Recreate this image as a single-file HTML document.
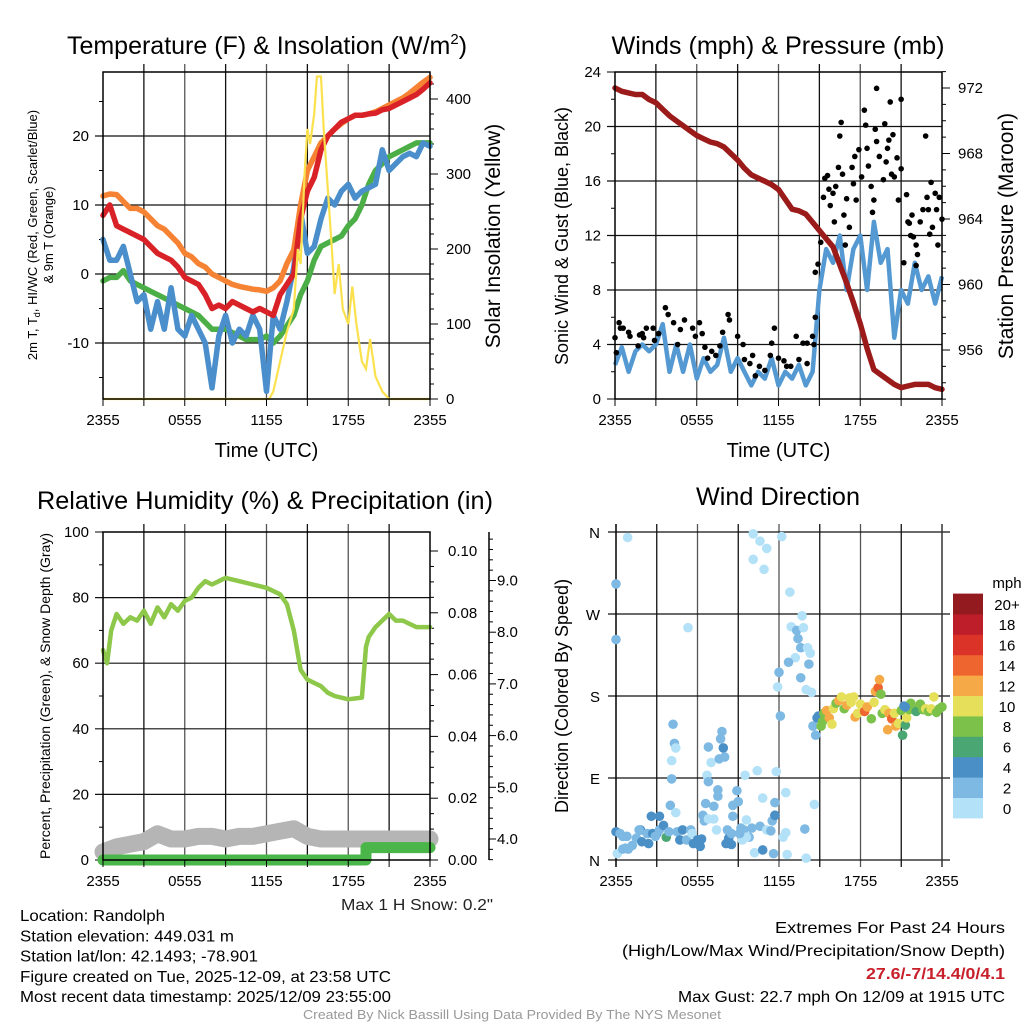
<!DOCTYPE html>
<html><head><meta charset="utf-8"><style>
html,body{margin:0;padding:0;background:#fff;}
svg{display:block;font-family:"Liberation Sans",sans-serif;}
</style></head><body>
<svg id="chart" width="1024" height="1024" viewBox="0 0 1024 1024" xmlns="http://www.w3.org/2000/svg"></svg>
<script>
// ---------- DATA ----------
const hours = [0,0.5,1,1.5,2,2.5,3,3.5,4,4.5,5,5.5,6,6.5,7,7.5,8,8.5,9,9.5,10,10.5,11,11.5,12,12.5,13,13.5,14,14.5,15,15.5,16,16.5,17,17.5,18,18.5,19,19.5,20,20.5,21,21.5,22,22.5,23,23.5,24];
const xTickLabels = ["2355","0555","1155","1755","2355"];
// Temperature panel (F)
const tempOrange = [11.3,11.6,11.5,10.5,9.5,9.5,9,8,7,6.5,5.5,4.5,3,2.5,1.5,1,0,-0.5,-1,-1.5,-1.8,-2,-2.2,-2.3,-2.5,-2,-1,1.5,3.5,10,15,17,19,20,21,21.8,22.5,23,23,23.2,23.5,24,24.5,25,25.5,26.2,27,27.8,28.5];
const tempRed = [8.5,10,7,6.5,6,5.5,5,4,3,2.5,2,1,-0.5,-1,-1.5,-3,-5,-4.5,-5,-4,-4.5,-5,-5.5,-5,-5.5,-6,-3,-1.5,0,8,12,14,18,20,21,22,22.5,23,23,23.2,23.3,23.8,24,24.5,25,25.5,26,26.8,27.7];
const tempGreen = [-1,-0.5,-0.5,0.5,-1,-1.5,-2,-2.5,-3,-3.5,-4,-4.5,-5,-5.5,-6,-7,-8,-8,-8,-8.5,-9,-9.5,-9.5,-9.5,-9,-10,-9,-7.5,-6,-3,-1,2,4,4.5,5,5.5,7,8,10,13,15,16,17,17.5,18,18.5,19,19,19];
const tempBlue = [5,2,2,4,0,-4,-3,-8,-4,-8,-2,-8,-9,-6,-8,-10,-16.5,-9,-6,-10,-8,-9,-6,-8,-17,-6,-8,-4,1,9,3,4,8,11,10,12,13,11,12,12.5,13,18,15,16,17,17.5,17,19,18.5];
const insolHours = [0,12.2,12.5,13,13.5,14,14.3,14.5,14.8,15,15.2,15.5,15.7,16,16.2,16.5,16.8,17,17.3,17.6,18,18.3,18.6,19,19.3,19.6,20,20.5,21,24];
const insolValues = [0,0,10,50,90,120,200,180,300,360,340,380,430,430,360,280,200,140,180,120,100,150,100,50,40,80,30,10,0,0];
// Winds panel
const windSonic = [2.5,3.8,2,3.5,4,3.5,4,5.5,2,4,2,4,1.5,3,2,2.5,4.5,2,3,2,1,2,1.5,3,1,2,1.5,2.5,1,2,8,11,10,12,8,11,12,8,13,10,11,4.5,8,7,10,8,9,7,9];
const pressure = [972,971.8,971.7,971.6,971.6,971.3,971.1,970.7,970.3,970,969.7,969.4,969.1,968.9,968.7,968.6,968.4,968,967.6,967.1,966.7,966.5,966.3,966.1,965.8,965.2,964.6,964.5,964.3,963.8,963.3,962.8,962.3,961.2,960.1,958.9,957.6,956.1,954.8,954.5,954.2,953.9,953.7,953.8,953.9,953.9,953.9,953.7,953.6];
const gustHours = [0,0.3,0.4,0.6,1,1.1,0.1,1.7,1.8,2,2.3,2.1,2.8,2.9,3.2,3.7,3.9,4.3,4.6,4.8,5.1,5.7,5.9,6.2,6.4,6.6,6.8,7.1,7.4,7.7,7.9,8.3,8.4,9,9.4,9.5,9.9,10.1,10.3,10.6,11,11.4,11.5,11.7,12,12.4,12.6,12.9,13.3,13.5,13.8,14.1,14.1,14.5,14.6,14.7,14.7,14.9,15.1,15.3,15.4,15.6,15.7,15.8,16,16.1,16.2,16.4,16.5,16.6,16.7,16.8,16.9,17,17.2,17.4,17.5,17.6,17.7,17.9,18.1,18.3,18.4,18.5,18.6,18.8,18.9,19,19.1,19.2,19.2,19.4,19.7,19.8,19.9,20,20.1,20.2,20.3,20.4,20.5,20.7,20.8,21,21,21.2,21.4,21.5,21.6,21.8,21.7,21.9,22.1,22.1,22.2,22.4,22.6,22.8,22.9,23,23.1,23.2,23.3,23.5,23.6,23.7,23.8,24];
const gustValues = [4.5,5.6,5.2,5.2,4.9,4.6,3.4,3.9,4.7,4.8,5.2,4.5,5.2,4.3,4.8,6.7,6.2,5.6,4,5.1,5.8,5.2,4.6,5.6,4.8,3.8,3,3.5,3.2,3.9,4.9,6.2,5.8,4.6,4,2.9,2.6,3.2,1.7,2.4,2.1,3.2,4.1,5.2,3,2.8,2.4,2.4,4.6,2.9,4.1,2.6,4.1,4.6,4,6,9.3,9.9,11.5,14.8,16.2,16.4,15.4,14.2,15.1,13,15.6,17,19.3,20.3,16.5,13.5,11.3,14.7,12.6,17,15.8,17.8,14.6,18.3,16.3,21.2,20.1,18.4,17.1,15.6,13.7,14.6,19.8,18.9,22.8,17.8,16.1,20.2,17.4,18.4,19,21.8,16.5,19.4,16.3,17.7,14.6,22,16.9,10,15,13,12.9,13.5,12,11.9,11.3,9.8,10.6,13,13.9,19.3,14.8,13.9,12.1,15.9,12.6,15.1,13.9,11.3,14.8,13.2];
// RH panel
const rhHours = [0,0.3,0.6,1,1.5,2,2.5,3,3.5,4,4.5,5,5.5,6,6.5,7,7.5,8,8.5,9,10,11,12,13,13.5,14,14.5,15,16,16.5,17,18,19,19.3,19.5,20,21,21.5,22,23,24];
const rhValues = [64,60,70,75,72,74,73,76,72,77,74,78,76,79,80,83,85,84,85,86,85,84,83,81,78,70,58,55,53,51,50,49,49.5,65,68,71,75,73,73,71,71];
const snowHours = [0,1,2,3,4,5,6,7,8,9,10,11,12,13,14,15,16,17,18,19,20,21,22,23,24];
const snowDepth = [3.75,3.85,3.9,3.95,4.1,4.0,4.0,4.05,4.05,4.0,4.05,4.05,4.1,4.15,4.2,4.05,4.0,4.0,4.0,4.0,4.0,4.0,4.0,4.0,4.0];
const precipHours = [0,19.3,19.3,24];
const precipValues = [0,0,0.004,0.004];
// Wind direction panel
const dirHours = [0.86,0,0,5.3,10.1,10.6,11.1,10.1,10.9,12.2,12.8,12.9,13.3,13.8,13.7,13.4,13.6,14.1,14.3,13.2,12.7,14.2,13.6,12,11.9,12.1,14,14.4,11.8,12.5,14.6,13.9,14,12.6,12.5,12.3,4.2,4.3,4.4,4.1,4.1,4,4.4,6.8,7,7.9,7.8,7.7,7.6,8,6.7,6.8,7.5,7.5,6.6,7.2,7.2,6.5,6.4,9.5,10.4,8.9,9,8.6,10.8,11.7,11.7,0,0.3,0.5,0.7,0.9,1.2,1.5,1.8,1.9,2.3,2.4,2.6,2.7,3,3.2,3.5,3.7,3.9,4.5,4.7,4.9,5.2,5.5,5.6,5.7,6,6.2,6.3,2.9,3.2,1.7,0.8,0.1,0.5,8.1,8.3,8.5,8.2,8.6,9.2,9.3,9.4,9.6,9.8,10,10.2,10.6,10.8,11.1,11.4,11.5,11.6,11.7,9.6,9.1,8.5,7.4,6.8,14.7,14.5,14.8,14.9,15.1,15.2,15.3,15.5,15.7,15.9,16,16.2,16.4,16.6,16.8,17,17.2,17.3,17.5,17.6,17.8,18,18.3,18.5,18.8,19,19.1,19.3,19.4,19.5,19.6,19.8,20,20.1,20.3,20.5,20.6,20.8,21,21.1,21.2,21.3,21.4,21.6,21.7,21.9,22.1,22.4,22.6,22.8,23,23.2,23.4,23.6,23.8,24,21.3];
const dirDegrees = [354,303,242,255,358,350,342,330,319,355,294,256,252,255,268,243,233,233,227,222,217,215,200,206,190,158,187,184,97,74,61,34,2,6,30,25,149,128,123,109,89,60,52,124,107,123,141,133,111,113,93,86,77,70,62,59,45,43,49,93,98,76,64,60,68,63,49,31,29,26,13,12,16,24,33,20,29,18,48,29,29,33,38,25,31,31,22,33,22,33,29,18,22,15,23,26,48,33,26,7,12,18,24,17,33,48,35,22,33,44,25,35,8,37,11,33,32,43,7,49,25,29,29,33,45,137,147,156,158,147,152,161,164,156,149,166,172,175,179,166,170,178,173,179,157,161,171,163,168,155,173,185,189,198,182,161,165,143,161,155,161,147,150,164,137,169,148,156,165,172,166,163,171,165,166,163,166,179,162,166,168,168];
const dirSpeeds = [0,3,3,1,0,0,0,0,0,0,0,1,2,0,0,3,3,0,0,0,3,3,3,3,1,3,0,0,0,0,0,3,0,0,0,0,2,2,0,0,3,2,0,2,0,4,2,2,2,2,0,2,2,2,2,2,0,2,2,0,0,2,3,2,0,3,4,4,2,2,2,2,2,2,4,4,2,4,4,4,4,2,4,6,2,2,4,4,2,2,0,4,4,4,4,2,4,2,2,0,2,4,4,4,2,2,2,0,2,0,2,2,0,2,4,0,2,2,2,4,0,2,2,0,0,2,2,4,4,8,8,8,12,12,10,10,8,12,10,8,12,10,10,10,12,10,10,14,12,8,10,12,14,12,8,8,10,12,12,14,10,12,10,8,6,4,6,10,8,8,8,6,8,8,10,8,10,10,8,8,8,4];
const speedLabels = ["0","2","4","6","8","10","12","14","16","18","20+"];
const speedColors = ["#b3e1f7","#7db9e3","#4a8fc6","#4aa672","#7cc24a","#e6df5a","#f5a947","#ef6530","#dc3329","#be1e2a","#931a1e"];

// ---------- DRAW ----------
const NS="http://www.w3.org/2000/svg";
const svg=document.getElementById('chart');
function mk(tag,attrs,parent){const e=document.createElementNS(NS,tag);for(const k in attrs)e.setAttribute(k,attrs[k]);(parent||svg).appendChild(e);return e;}
function txt(s,x,y,size,anchor,parent,extra){const t=mk('text',Object.assign({x:x,y:y,'font-size':size,'text-anchor':anchor||'start',fill:'#000'},extra||{}),parent);t.textContent=s;return t;}
function group(name){const g=mk('g',{});return g;}

function timeAxis(g,x0,x1,yb,withTitle){
  const xs=h=>x0+h/24*(x1-x0);
  for(let i=0;i<=8;i++){const x=xs(i*3);mk('line',{x1:x,x2:x,y1:yb,y2:yb+7,stroke:'#000','stroke-width':1},g);}
  xTickLabels.forEach((l,i)=>{const t=txt(l,xs(i*6),yb+26,15,'middle',g);});
  if(withTitle){const t=txt('Time (UTC)',(x0+x1)/2,yb+58,20,'middle',g);}
}
function vgrid(g,x0,x1,y0,y1){for(let i=1;i<8;i++){const x=x0+i*3/24*(x1-x0);mk('line',{x1:x,x2:x,y1:y0-8,y2:y1,stroke:(i%2?'#111':'#555'),'stroke-width':1.3},g);}}
function pathFrom(xsArr,ysArr,fx,fy){return xsArr.map((h,i)=>(i?'L':'M')+fx(h).toFixed(1)+','+fy(ysArr[i]).toFixed(1)).join(' ');}
const fit={lengthAdjust:'spacingAndGlyphs'};

// ===== Panel 1: temperature =====
(function(){
  const g=group('temperature-panel');
  const x0=103,x1=430,y0=72,y1=399;
  const xs=h=>x0+h/24*(x1-x0);
  const yT=v=>274-v*6.9;
  const yI=v=>399-v*0.75;
  const tt=txt('',267,54,25,'middle',g);
  tt.innerHTML='Temperature (F) &amp; Insolation (W/m<tspan dy="-10" font-size="15">2</tspan><tspan dy="10">)</tspan>';
  vgrid(g,x0,x1,y0,y1);
  [20,10,0,-10].forEach(v=>{mk('line',{x1:x0-8,x2:x1,y1:yT(v),y2:yT(v),stroke:'#111','stroke-width':1.2},g);const t=txt(String(v),x0-14,yT(v)+5,15,'end',g);});
  [25,15,5,-5,-15].forEach(v=>mk('line',{x1:x0-4,x2:x0,y1:yT(v),y2:yT(v),stroke:'#000'},g));
  for(let v=0;v<=430;v+=20){mk('line',{x1:x1,x2:x1+(v%100?4:8),y1:yI(v),y2:yI(v),stroke:'#000'},g);}
  [0,100,200,300,400].forEach(v=>{const t=txt(String(v),x1+16,yI(v)+5,15,'start',g);});
  const series=[[tempGreen,'#4bae46','dewpoint-line'],[tempBlue,'#4a8fcb','heat-index-wind-chill-line'],[tempOrange,'#f68233','temp-9m-line'],[tempRed,'#d92227','temp-2m-line']];
  series.forEach(s=>{const p=mk('path',{d:pathFrom(hours,s[0],xs,yT),fill:'none',stroke:s[1],'stroke-width':5.5,'stroke-linejoin':'round','stroke-linecap':'round'},g);});
  const ins=mk('path',{d:pathFrom(insolHours,insolValues.map(v=>Math.min(v,434)),xs,yI),fill:'none',stroke:'#fbe14e','stroke-width':2.2},g);
  
  mk('rect',{x:x0,y:y0,width:x1-x0,height:y1-y0,fill:'none',stroke:'#000','stroke-width':1.5},g);
  timeAxis(g,x0,x1,y1,true);
  const lt=mk('text',{transform:'translate(37,235) rotate(-90)','font-size':13,'text-anchor':'middle'},g);
  
  lt.innerHTML='2m T, T<tspan dy="3" font-size="9">d</tspan><tspan dy="-3">, HI/WC (Red, Green, Scarlet/Blue)</tspan>';
  const lt2=txt('& 9m T (Orange)',0,0,13,'middle',g,{transform:'translate(53,235) rotate(-90)'});
  const rt=txt('Solar Insolation (Yellow)',0,0,21,'middle',g,{transform:'translate(500,236) rotate(-90)'});
})();

// ===== Panel 2: winds =====
(function(){
  const g=group('winds-panel');
  const x0=615,x1=942,y0=72,y1=399;
  const xs=h=>x0+h/24*(x1-x0);
  const yW=v=>399-v*13.625;
  const yP=v=>88+(972-v)*16.375;
  const tt=txt('Winds (mph) & Pressure (mb)',778,54,25,'middle',g,Object.assign({textLength:333},fit));
  vgrid(g,x0,x1,y0,y1);
  for(let v=0;v<=24;v+=4){if(v>0&&v<24)mk('line',{x1:x0-8,x2:x1,y1:yW(v),y2:yW(v),stroke:'#111','stroke-width':1.2},g);else mk('line',{x1:x0-8,x2:x0,y1:yW(v),y2:yW(v),stroke:'#000'},g);const t=txt(String(v),x0-14,yW(v)+5,15,'end',g);}
  for(let v=2;v<24;v+=4)mk('line',{x1:x0-4,x2:x0,y1:yW(v),y2:yW(v),stroke:'#000'},g);
  for(let v=953;v<=973;v++){mk('line',{x1:x1,x2:x1+(v%4?4:8),y1:yP(v),y2:yP(v),stroke:'#000'},g);}
  [956,960,964,968,972].forEach(v=>{const t=txt(String(v),x1+16,yP(v)+5,15,'start',g);});
  const b=mk('path',{d:pathFrom(hours,windSonic,xs,yW),fill:'none',stroke:'#5499d2','stroke-width':4.5,'stroke-linejoin':'round'},g);
  
  const p=mk('path',{d:pathFrom(hours,pressure,xs,yP),fill:'none',stroke:'#9b1a1a','stroke-width':5.5,'stroke-linejoin':'round','stroke-linecap':'round'},g);
  
  gustHours.forEach((h,i)=>{const c=mk('circle',{cx:xs(h),cy:yW(gustValues[i]),r:2.8,fill:'#000'},g);
    
    });
  mk('rect',{x:x0,y:y0,width:x1-x0,height:y1-y0,fill:'none',stroke:'#000','stroke-width':1.5},g);
  timeAxis(g,x0,x1,y1,true);
  const lt=txt('Sonic Wind & Gust (Blue, Black)',0,0,18,'middle',g,{transform:'translate(568,236) rotate(-90)'});
  const rt=txt('Station Pressure (Maroon)',0,0,21,'middle',g,{transform:'translate(1013,236) rotate(-90)'});
})();

// ===== Panel 3: RH =====
(function(){
  const g=group('humidity-panel');
  const x0=103,x1=430,y0=532,y1=860;
  const xs=h=>x0+h/24*(x1-x0);
  const yR=v=>860-v*3.28;
  const yPr=v=>860-v*3090;
  const yS=v=>839-(v-4)*51.7;
  const tt=txt('Relative Humidity (%) & Precipitation (in)',265,509,25,'middle',g,Object.assign({textLength:456},fit));
  vgrid(g,x0,x1,y0,y1);
  for(let v=0;v<=100;v+=20){if(v>0&&v<100)mk('line',{x1:x0-8,x2:x1,y1:yR(v),y2:yR(v),stroke:'#111','stroke-width':1.2},g);else mk('line',{x1:x0-8,x2:x0,y1:yR(v),y2:yR(v),stroke:'#000'},g);const t=txt(String(v),x0-14,yR(v)+5,15,'end',g);}
  for(let v=10;v<100;v+=20)mk('line',{x1:x0-4,x2:x0,y1:yR(v),y2:yR(v),stroke:'#000'},g);
  for(let v=0;v<=0.105;v+=0.005){const maj=Math.abs(Math.round(v*1000)%20)<1;mk('line',{x1:x1,x2:x1+(maj?8:4),y1:yPr(v),y2:yPr(v),stroke:'#000'},g);}
  ['0.00','0.02','0.04','0.06','0.08','0.10'].forEach(l=>{const t=txt(l,x1+18,yPr(parseFloat(l))+5,15,'start',g);});
  mk('line',{x1:489,x2:489,y1:y0,y2:y1,stroke:'#000','stroke-width':1.5},g);
  for(let v=3.6;v<=9.9;v+=0.2){const maj=Math.abs(v-Math.round(v))<0.05;mk('line',{x1:489,x2:489+(maj?7:4),y1:yS(v),y2:yS(v),stroke:'#000'},g);}
  ['4.0','5.0','6.0','7.0','8.0','9.0'].forEach(l=>{const t=txt(l,497,yS(parseFloat(l))+5,15,'start',g);});
  const s=mk('path',{d:pathFrom(snowHours,snowDepth,xs,yS),fill:'none',stroke:'#b5b5b5','stroke-width':17,'stroke-linejoin':'round','stroke-linecap':'round'},g);
  
  const pr=mk('path',{d:pathFrom(precipHours,precipValues,xs,yPr),fill:'none',stroke:'#4ab548','stroke-width':11,'stroke-linejoin':'round','stroke-linecap':'round'},g);
  
  const rh=mk('path',{d:pathFrom(rhHours,rhValues,xs,yR),fill:'none',stroke:'#8dc84a','stroke-width':4.5,'stroke-linejoin':'round','stroke-linecap':'round'},g);
  
  mk('rect',{x:x0,y:y0,width:x1-x0,height:y1-y0,fill:'none',stroke:'#000','stroke-width':1.5},g);
  timeAxis(g,x0,x1,y1,false);
  const lt=txt('Percent, Precipitation (Green), & Snow Depth (Gray)',0,0,14,'middle',g,{transform:'translate(50,696) rotate(-90)'});
  const ms=txt('Max 1 H Snow: 0.2"',493,910,16,'end',g,Object.assign({fill:'#222',textLength:152},fit));
})();

// ===== Panel 4: wind direction =====
(function(){
  const g=group('wind-direction-panel');
  const x0=616,x1=942,y0=532,y1=860;
  const xs=h=>x0+h/24*(x1-x0);
  const yD=v=>860-v*0.9111;
  const tt=txt('Wind Direction',778,505,25,'middle',g,Object.assign({textLength:164},fit));
  for(let i=1;i<8;i++){const x=xs(i*3);mk('line',{x1:x,x2:x,y1:y0-8,y2:y1+7,stroke:(i%2?'#111':'#555'),'stroke-width':1.3},g);}
  const dl=['N','E','S','W','N'];
  [0,90,180,270,360].forEach((v,i)=>{mk('line',{x1:x0-8,x2:x1+8,y1:yD(v),y2:yD(v),stroke:'#111','stroke-width':1.3},g);const t=txt(dl[i],x0-16,yD(v)+6,15,'end',g);});
  mk('line',{x1:x0,x2:x0,y1:y0-8,y2:y1+7,stroke:'#000','stroke-width':1.5},g);
  mk('line',{x1:x1,x2:x1,y1:y0-8,y2:y1+7,stroke:'#333','stroke-width':1.5},g);
  dirHours.forEach((h,i)=>{const idx=Math.min(10,Math.floor(dirSpeeds[i]/2));const c=mk('circle',{cx:xs(h),cy:yD(dirDegrees[i]),r:4.8,fill:speedColors[idx]},g);
    
    });
  xTickLabels.forEach((l,i)=>{const t=txt(l,xs(i*6),y1+26,15,'middle',g);});
  const lt=txt('Direction (Colored By Speed)',0,0,18,'middle',g,{transform:'translate(568,696) rotate(-90)'});
  const cb=group('speed-colorbar');
  const bh=20.4;
  speedColors.forEach((c,i)=>{const y=818-(i+1)*bh;const r=mk('rect',{x:953,y:y,width:30,height:bh+0.4,fill:c},cb);
    
    
    const t=txt(speedLabels[i],1007,y+bh/2+6,15,'middle',cb);});
  const mph=txt('mph',1007,588,15,'middle',cb);
})();

// ===== Footer text =====
(function(){
  const g=group('station-info');
  const lines=['Location: Randolph','Station elevation: 449.031 m','Station lat/lon: 42.1493; -78.901','Figure created on Tue, 2025-12-09, at 23:58 UTC','Most recent data timestamp: 2025/12/09 23:55:00'];
  const widths=[145,214,238,371,371];
  lines.forEach((s,i)=>{const t=txt(s,20,921+i*20.3,16,'start',g,Object.assign({textLength:widths[i]},fit));});
  const g2=group('extremes-info');
  let t=txt('Extremes For Past 24 Hours',1005,933,16,'end',g2,Object.assign({textLength:230},fit));
  t=txt('(High/Low/Max Wind/Precipitation/Snow Depth)',1005,956,16,'end',g2,Object.assign({textLength:383},fit));
  t=txt('27.6/-7/14.4/0/4.1',1005,979,16,'end',g2,Object.assign({fill:'#c8202a','font-weight':'bold',textLength:139},fit));
  t=txt('Max Gust: 22.7 mph On 12/09 at 1915 UTC',1005,1002,16,'end',g2,Object.assign({textLength:327},fit));
  t=txt('Created By Nick Bassill Using Data Provided By The NYS Mesonet',512,1019,13,'middle',svg,Object.assign({fill:'#999',textLength:418},fit));
})();
</script>
</body></html>
